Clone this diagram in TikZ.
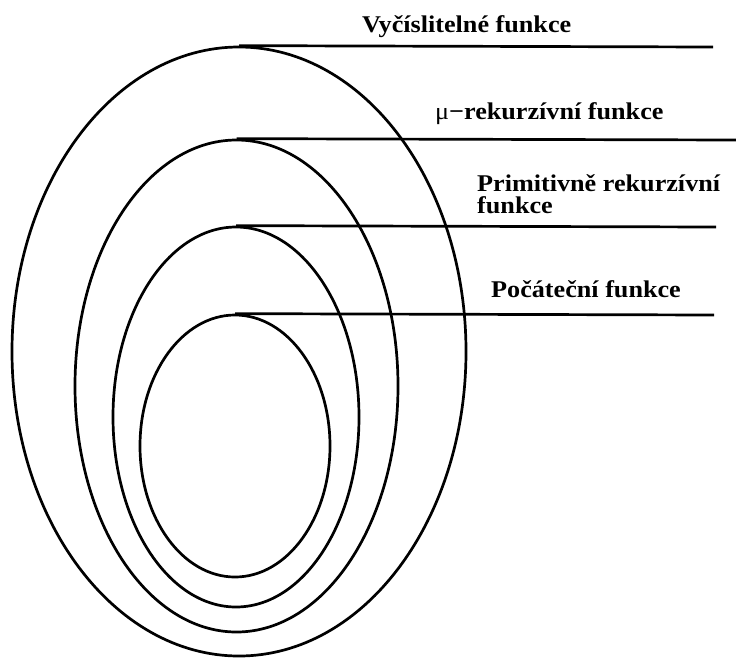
\documentclass[tikz,border=0pt]{standalone}
\usepackage{fontspec}
\setmainfont{Liberation Serif}[FakeStretch=1.09]
\usetikzlibrary{shapes.geometric}
\tikzset{
  ring/.style={ellipse, draw=black, line width=2.7pt, inner sep=0pt},
  lead/.style={line width=2.7pt, draw=black},
  lbl/.style={anchor=base west, inner sep=0pt, font=\fontsize{24}{22}\selectfont\bfseries, align=left}
}
\begin{document}
\begin{tikzpicture}[x=1pt,y=-1pt]
\useasboundingbox (0,0) rectangle (736,657);
\node[ring, minimum width=454pt, minimum height=609pt] (e1) at (239,351.5) {};
\node[ring, minimum width=323pt, minimum height=492pt] (e2) at (236.5,386) {};
\node[ring, minimum width=246pt, minimum height=380pt] (e3) at (236,417) {};
\node[ring, minimum width=190pt, minimum height=262pt] (e4) at (235,446) {};
\coordinate (t1) at (713,47);
\coordinate (t2) at (736,140);
\coordinate (t3) at (716,227);
\coordinate (t4) at (714,315);
\draw[lead] (e1.north) -- (t1);
\draw[lead] (e2.north) -- (t2);
\draw[lead] (e3.north) -- (t3);
\draw[lead] (e4.north) -- (t4);
\node[lbl] (l1) at (362,32) {Vyčíslitelné funkce};
\node[lbl] (l2) at (435,119) {{\mdseries μ}−rekurzívní funkce};
\node[lbl] (l3) at (477,213) {Primitivně rekurzívní\\funkce};
\node[lbl] (l4) at (491,297) {Počáteční funkce};
\end{tikzpicture}
\end{document}
